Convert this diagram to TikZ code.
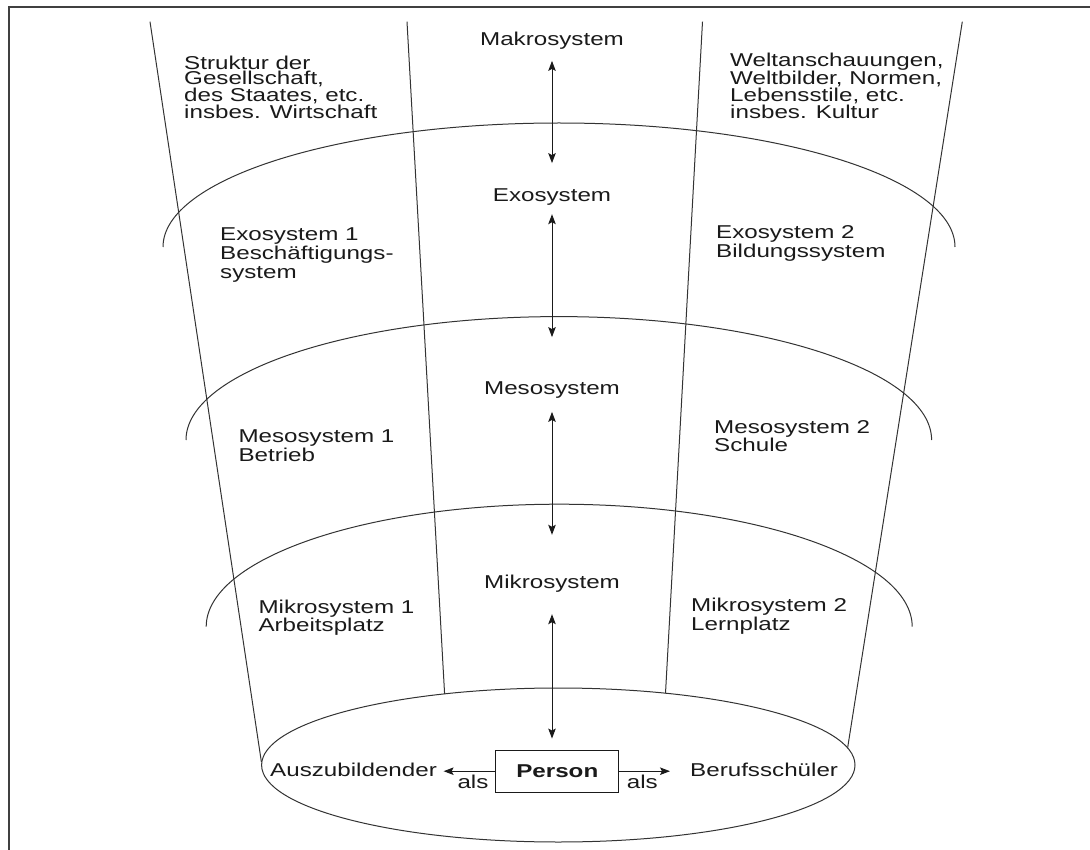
\documentclass[tikz,border=0pt]{standalone}
\usepackage{fontspec}
\setmainfont[FakeStretch=1.3]{Liberation Sans}
\usetikzlibrary{arrows.meta}
\newcommand{\dfont}{\fontsize{18.6}{18.7}\selectfont}
\newcommand{\tfont}{\fontsize{18.6}{15}\selectfont}
\definecolor{ink}{HTML}{1A1A1A}
\definecolor{linec}{HTML}{333333}
\tikzset{
  lbl/.style={inner sep=0pt, anchor=base west, align=left, font=\dfont, text=ink},
  toplbl/.style={lbl, font=\tfont},
  clbl/.style={inner sep=0pt, anchor=base, font=\dfont, text=ink, text height=13.3pt, text depth=4pt},
  thin line/.style={draw=linec, line width=1pt},
  biarrow/.style={draw=ink, line width=1pt, {Stealth[length=10pt,width=7.5pt,inset=2pt]}-{Stealth[length=10pt,width=7.5pt,inset=2pt]}},
  onearrow/.style={draw=ink, line width=1pt, -{Stealth[length=10pt,width=7.5pt,inset=2pt]}},
  framel/.style={draw=black!75, line width=2pt},
}
\begin{document}
\begin{tikzpicture}[x=1pt,y=1pt]
\useasboundingbox (0,0) rectangle (1090,-850);
% frame
\draw[framel] (9,-850) -- (9,-7) -- (1090,-7);
% radial lines
\draw[thin line] (150,-21.7) -- (261.4,-762);
\draw[thin line] (407,-21.7) -- (444.6,-694);
\draw[thin line] (702.5,-21.7) -- (665.5,-693.3);
\draw[thin line] (962.3,-21.7) -- (847.6,-748);
% arcs
\draw[thin line] (163,-247) arc[start angle=180, end angle=0, x radius=396, y radius=124];
\draw[thin line] (186,-440) arc[start angle=180, end angle=0, x radius=372.8, y radius=123.4];
\draw[thin line] (206.2,-626.7) arc[start angle=180, end angle=0, x radius=353, y radius=122.5];
% bottom ellipse
\draw[thin line] (558.3,-765) ellipse[x radius=296.7, y radius=77];
% labels (base = baseline of the last line)
\node[toplbl] (tl) at (184,-118.3) {Struktur der\\Gesellschaft,\\des Staates, etc.\\insbes. Wirtschaft};
\node[toplbl] (tr) at (730,-118.3) {Weltanschauungen,\\Weltbilder, Normen,\\Lebensstile, etc.\\insbes. Kultur};
\node[clbl] (makro) at (552,-46) {Makrosystem};
\node[clbl] (exo) at (552,-201.5) {Exosystem};
\node[lbl] (exo1) at (220,-278.1) {Exosystem 1\\Beschäftigungs-\\system};
\node[lbl] (exo2) at (716,-257.5) {Exosystem 2\\Bildungssystem};
\node[clbl] (meso) at (552,-394.3) {Mesosystem};
\node[lbl] (meso1) at (238.3,-461) {Mesosystem 1\\Betrieb};
\node[lbl] (meso2) at (714,-451.7) {Mesosystem 2\\Schule};
\node[clbl] (mikro) at (552,-588) {Mikrosystem};
\node[lbl] (mikro1) at (258.3,-631.7) {Mikrosystem 1\\Arbeitsplatz};
\node[lbl] (mikro2) at (691,-630) {Mikrosystem 2\\Lernplatz};
\node[draw=ink, line width=1pt, minimum width=123.3pt, minimum height=42.3pt, inner sep=0pt, font=\dfont\bfseries, text=ink] (person) at (557.3,-771.2) {Person};
\node[lbl] (auszu) at (270,-776.7) {Auszubildender};
\node[lbl] (beruf) at (690,-776.7) {Berufsschüler};
\node[lbl] (als1) at (457.3,-788.3) {als};
\node[lbl] (als2) at (626.7,-788) {als};
% arrows
\draw[biarrow, shorten <=10.7pt, shorten >=24.9pt] (makro.south) -- (exo.north);
\draw[biarrow, shorten <=8.5pt, shorten >=43.7pt] (exo.south) -- (meso.north);
\draw[biarrow, shorten <=13.4pt, shorten >=39.7pt] (meso.south) -- (mikro.north);
\draw[biarrow, shorten <=22pt, shorten >=11pt] (mikro.south) -- (mikro.south |- person.north);
\draw[onearrow, shorten >=6.5pt] (person.west) -- (person.west -| auszu.east);
\draw[onearrow, shorten >=20pt] (person.east) -- (person.east -| beruf.west);
\end{tikzpicture}
\end{document}
